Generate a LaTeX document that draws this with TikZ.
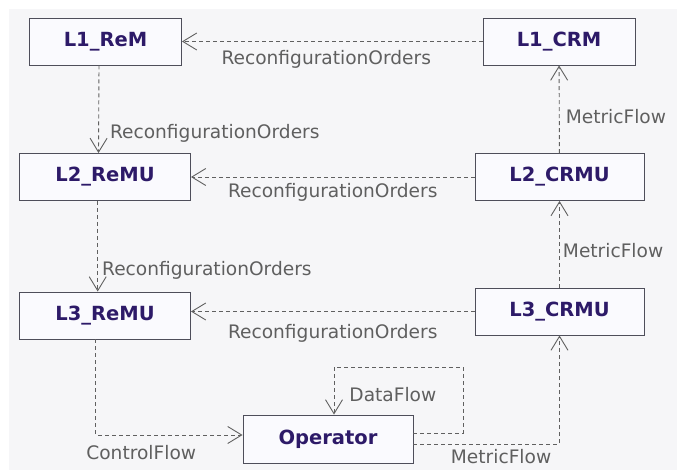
\documentclass[tikz,border=0pt]{standalone}
\usepackage{fontspec}
\setmainfont{DejaVu Sans}
\usetikzlibrary{positioning, arrows.meta}
\definecolor{unittext}{HTML}{2D1A68}
\definecolor{unitline}{HTML}{4E4E5A}
\definecolor{unitfill}{HTML}{FAFAFE}
\definecolor{flowline}{HTML}{606060}
\definecolor{flowtext}{HTML}{5F5F5F}
\definecolor{canvas}{HTML}{F6F6F8}

\begin{document}
\begin{tikzpicture}[
    x=1pt, y=-1pt,
    font=\fontsize{18.6}{22}\selectfont,
    unit/.style={draw=unitline, fill=unitfill, text=unittext, font=\fontsize{19.5}{22}\selectfont\bfseries, minimum height=47pt, inner sep=0pt, line width=0.9pt},
    remu/.style={unit, minimum width=171pt},
    crmu/.style={unit, minimum width=169pt},
    flow/.style={-{Straight Barb[length=14pt, width=17pt]}, draw=flowline, dash pattern=on 4pt off 3pt, line width=0.9pt},
    lbl/.style={text=flowtext, inner sep=0pt}
]
\useasboundingbox (0,0) rectangle (677,470);
\fill[canvas] (9,9) rectangle (677,470);

% --- Reconfiguration side ---
\node[unit, minimum width=152pt] (ReM1) at (105.5,41.5) {L1\_ReM};
\node[remu] (ReMU2) at (105,177) {L2\_ReMU};
\node[remu] (ReMU3) at (105,315.5) {L3\_ReMU};

% --- Monitoring side ---
\node[unit, minimum width=152pt] (CRM1) at (559,41.5) {L1\_CRM};
\node[crmu] (CRMU2) at (559.5,177) {L2\_CRMU};
\node[crmu] (CRMU3) at (559.5,311.5) {L3\_CRMU};

\node[unit, minimum width=170pt, minimum height=48pt] (Op) at (328,439) {Operator};

% --- Orders, right to left ---
\draw[flow] (CRM1) -- node[lbl, below=8.5pt, xshift=-6pt] {ReconfigurationOrders} (ReM1);
\draw[flow] (CRMU2) -- node[lbl, below=6.3pt] {ReconfigurationOrders} (ReMU2);
\draw[flow] (CRMU3.west) -- node[lbl, below=12pt] {ReconfigurationOrders} (CRMU3.west -| ReMU3.east);

% --- Orders, top down ---
\draw[flow] ([xshift=-6.5pt]ReM1.south) -- node[lbl, pos=0.83, anchor=base west, xshift=11pt] {ReconfigurationOrders} ([xshift=-6.5pt]ReMU2.north);
\draw[flow] ([xshift=-7.3pt]ReMU2.south) -- node[lbl, pos=0.82, anchor=base west, xshift=4pt] {ReconfigurationOrders} ([xshift=-7.3pt]ReMU3.north);

% --- Metrics, bottom up ---
\draw[flow] (CRMU2) -- node[lbl, pos=0.34, anchor=base west, xshift=6pt] {MetricFlow} (CRM1);
\draw[flow] (CRMU3) -- node[lbl, pos=0.35, anchor=base west, xshift=3pt] {MetricFlow} (CRMU2);

% --- Operator ---
\coordinate (loopTR) at (463,367);
\draw[flow] ([xshift=-9.3pt]ReMU3.south) |- node[lbl, pos=0.655, anchor=base, yshift=-24pt] {ControlFlow} ([yshift=4pt]Op.west);
\draw[flow] ([yshift=6pt]Op.east) -| (loopTR) -| node[lbl, pos=0.86, anchor=base west, xshift=15pt] {DataFlow} ([xshift=6pt]Op.north);
\draw[flow] ([yshift=-5pt]Op.east) -| node[lbl, pos=0.3, anchor=base, yshift=-19pt] {MetricFlow} (CRMU3.south);

\end{tikzpicture}
\end{document}
